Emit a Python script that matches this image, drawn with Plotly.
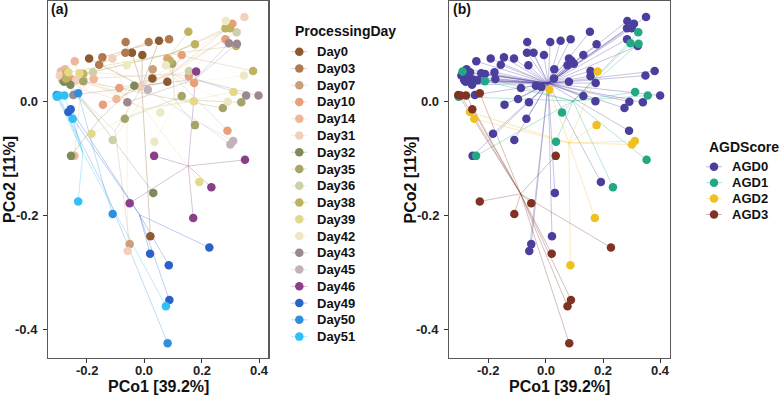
import plotly.graph_objects as go
import pandas as pd

# ---- data ----
pco1 = [0.348, 0.283, 0.306, 0.282, 0.298, 0.321, 0.153, 0.282, 0.294, 0.322,
        0.319, 0.176, -0.065, 0.015, 0.051, 0.086, -0.066, -0.043, -0.007, -0.192,
        -0.146, -0.111, -0.157, -0.242, -0.061, 0.130, 0.080, 0.089, 0.097, 0.075,
        0.029, 0.155, 0.180, 0.155, 0.378, 0.346, 0.028, 0.080, 0.173, -0.035,
        -0.087, -0.016, 0.012, 0.310, 0.354, 0.397, 0.130, 0.172, 0.290, 0.337,
        0.273, -0.097, -0.059, -0.144, -0.068, 0.056, 0.176, 0.289, 0.309, 0.299,
        -0.184, -0.110, 0.035, 0.034, 0.350, -0.255, -0.243, 0.191, 0.233, 0.031,
        -0.290, -0.276, -0.270, -0.264, -0.225, -0.212, -0.179, -0.176, -0.253, -0.237,
        -0.212, -0.279, -0.257, -0.284, -0.273, -0.294, -0.305, -0.296, -0.278, -0.247,
        -0.230, -0.304, -0.256, -0.264, -0.249, -0.230, -0.110, -0.051, 0.170, 0.021,
        -0.051, -0.058, 0.020, 0.226, 0.085, 0.087, 0.075, 0.081]
pco2 = [0.149, 0.142, 0.137, 0.129, 0.129, 0.122, 0.123, 0.110, 0.103, 0.102,
        0.098, 0.101, 0.105, 0.105, 0.107, 0.110, 0.086, 0.086, 0.082, 0.076,
        0.078, 0.076, 0.065, 0.071, 0.064, 0.082, 0.076, 0.072, 0.067, 0.064,
        0.057, 0.054, 0.053, 0.045, 0.054, 0.046, 0.041, 0.035, 0.033, 0.028,
        0.024, 0.026, 0.021, 0.017, 0.011, 0.011, 0.010, 0.001, 0.000, -0.001,
        -0.011, 0.005, -0.001, -0.005, -0.030, -0.019, -0.041, -0.051, -0.069, -0.075,
        -0.056, -0.067, -0.070, -0.095, -0.102, -0.095, -0.095, -0.141, -0.150, -0.160,
        0.053, 0.057, 0.051, 0.052, 0.050, 0.049, 0.052, 0.040, 0.039, 0.038,
        0.036, 0.035, 0.030, 0.038, 0.041, 0.046, 0.012, 0.011, 0.011, 0.012,
        0.015, 0.009, -0.013, -0.018, -0.030, -0.175, -0.197, -0.178, -0.204, -0.236,
        -0.250, -0.262, -0.267, -0.256, -0.287, -0.348, -0.359, -0.424]
day = ["Day31", "Day42", "Day10", "Day38", "Day38", "Day36", "Day38", "Day10", "Day43", "Day43",
       "Day38", "Day38", "Day03", "Day03", "Day0", "Day03", "Day03", "Day0", "Day0", "Day0",
       "Day03", "Day31", "Day03", "Day14", "Day42", "Day10", "Day10", "Day38", "Day35", "Day42",
       "Day07", "Day36", "Day46", "Day10", "Day38", "Day42", "Day0", "Day0", "Day10", "Day32",
       "Day10", "Day31", "Day45", "Day39", "Day43", "Day43", "Day35", "Day39", "Day42", "Day35",
       "Day35", "Day14", "Day43", "Day10", "Day35", "Day42", "Day35", "Day10", "Day45", "Day45",
       "Day39", "Day36", "Day42", "Day46", "Day46", "Day32", "Day14", "Day39", "Day46", "Day32",
       "Day14", "Day14", "Day38", "Day39", "Day39", "Day38", "Day36", "Day14", "Day10", "Day31",
       "Day35", "Day32", "Day32", "Day07", "Day38", "Day31", "Day50", "Day51", "Day51", "Day43",
       "Day50", "Day51", "Day49", "Day49", "Day51", "Day51", "Day50", "Day46", "Day46", "Day0",
       "Day07", "Day31", "Day49", "Day49", "Day49", "Day49", "Day51", "Day50"]
agd = ["AGD0", "AGD0", "AGD0", "AGD0", "AGD0", "AGD1", "AGD0", "AGD0", "AGD1", "AGD1",
       "AGD0", "AGD0", "AGD0", "AGD0", "AGD0", "AGD0", "AGD0", "AGD0", "AGD0", "AGD0",
       "AGD0", "AGD0", "AGD0", "AGD0", "AGD0", "AGD0", "AGD0", "AGD0", "AGD0", "AGD0",
       "AGD0", "AGD0", "AGD2", "AGD0", "AGD0", "AGD0", "AGD0", "AGD0", "AGD0", "AGD0",
       "AGD0", "AGD0", "AGD2", "AGD1", "AGD1", "AGD0", "AGD0", "AGD0", "AGD0", "AGD0",
       "AGD0", "AGD0", "AGD0", "AGD0", "AGD0", "AGD1", "AGD2", "AGD0", "AGD2", "AGD2",
       "AGD0", "AGD0", "AGD1", "AGD3", "AGD1", "AGD0", "AGD1", "AGD0", "AGD1", "AGD0",
       "AGD1", "AGD0", "AGD0", "AGD0", "AGD0", "AGD0", "AGD0", "AGD0", "AGD0", "AGD0",
       "AGD1", "AGD0", "AGD0", "AGD0", "AGD0", "AGD0", "AGD3", "AGD3", "AGD3", "AGD0",
       "AGD3", "AGD1", "AGD3", "AGD2", "AGD2", "AGD3", "AGD3", "AGD3", "AGD2", "AGD0",
       "AGD0", "AGD0", "AGD3", "AGD3", "AGD2", "AGD3", "AGD3", "AGD3"]

day_levels = ["Day0", "Day03", "Day07", "Day10", "Day14", "Day31", "Day32", "Day35", "Day36",
              "Day38", "Day39", "Day42", "Day43", "Day45", "Day46", "Day49", "Day50", "Day51"]
agd_levels = ["AGD0", "AGD1", "AGD2", "AGD3"]

x_ticks = [-0.2, 0.0, 0.2, 0.4]
x_tick_labels = ["-0.2", "0.0", "0.2", "0.4"]
y_ticks = [-0.4, -0.2, 0.0]
y_tick_labels = ["-0.4", "-0.2", "0.0"]

# ---- styles ----
day_colors = {
    "Day0": (140, 90, 46), "Day03": (176, 122, 80), "Day07": (201, 160, 122),
    "Day10": (232, 160, 122), "Day14": (238, 184, 152), "Day31": (242, 208, 188),
    "Day32": (125, 138, 90), "Day35": (166, 164, 104), "Day36": (207, 207, 168),
    "Day38": (191, 178, 98), "Day39": (227, 217, 138), "Day42": (236, 233, 196),
    "Day43": (156, 136, 144), "Day45": (196, 178, 186), "Day46": (138, 63, 138),
    "Day49": (42, 98, 200), "Day50": (45, 143, 224), "Day51": (47, 192, 245),
}
agd_colors = {"AGD0": (75, 63, 158), "AGD1": (34, 168, 132),
              "AGD2": (240, 192, 32), "AGD3": (127, 51, 37)}

FONT = "Liberation Sans, Arial, sans-serif"
W, H = 784, 400
LINE_ALPHA = 0.45

df = pd.DataFrame({"x": pco1, "y": pco2, "day": day, "agd": agd})

fig = go.Figure()


def add_panel(group_col, levels, colors, xa, ya):
    cent = df.groupby(group_col)[["x", "y"]].mean()
    for lv in levels:
        sub = df[df[group_col] == lv]
        if sub.empty:
            continue
        cx, cy = cent.loc[lv, "x"], cent.loc[lv, "y"]
        xs, ys = [], []
        for px, py in zip(sub["x"], sub["y"]):
            xs += [cx, px, None]
            ys += [cy, py, None]
        r, g, b = colors[lv]
        fig.add_trace(go.Scatter(x=xs, y=ys, mode="lines", xaxis=xa, yaxis=ya,
                                 line=dict(color=f"rgba({r},{g},{b},{LINE_ALPHA})", width=0.7),
                                 showlegend=False, hoverinfo="skip"))
    for lv in levels:
        sub = df[df[group_col] == lv]
        r, g, b = colors[lv]
        fig.add_trace(go.Scatter(x=sub["x"], y=sub["y"], mode="markers", name=lv,
                                 xaxis=xa, yaxis=ya, showlegend=False,
                                 marker=dict(color=f"rgb({r},{g},{b})", size=8.5,
                                             line=dict(width=0))))


add_panel("day", day_levels, day_colors, "x", "y")
add_panel("agd", agd_levels, agd_colors, "x2", "y2")

ann = []
def txt(text, x, y, size, xanchor="center", yanchor="middle", angle=0,
        xref="paper", yref="paper", color="#111111"):
    xv = x / W if xref == "paper" else x
    yv = 1 - y / H if yref == "paper" else y
    ann.append(dict(text=text, x=xv, y=yv, xref=xref, yref=yref,
                    showarrow=False, xanchor=xanchor, yanchor=yanchor, textangle=angle,
                    font=dict(family=FONT, size=size, color=color, weight="bold")))


# ---- legends drawn on a transparent pixel overlay axis (keys + labels) ----
def add_legend(title, levels, colors, title_x, title_y, key_x, text_x, first_y, step):
    txt(title, title_x, title_y, 14, xanchor="left")
    for i, lv in enumerate(levels):
        yy = first_y + i * step
        r, g, b = colors[lv]
        fig.add_trace(go.Scatter(x=[key_x - 8, key_x + 8], y=[yy, yy], mode="lines",
                                 xaxis="x3", yaxis="y3", showlegend=False, hoverinfo="skip",
                                 line=dict(color=f"rgba({r},{g},{b},{LINE_ALPHA})", width=0.8)))
        fig.add_trace(go.Scatter(x=[key_x], y=[yy], mode="markers", xaxis="x3", yaxis="y3",
                                 showlegend=False, hoverinfo="skip",
                                 marker=dict(color=f"rgb({r},{g},{b})", size=8.5)))
        txt(lv, text_x, yy, 13, xanchor="left")


add_legend("ProcessingDay", day_levels, day_colors, 292.7, 31, 299.3, 315, 51.7, 16.76)
add_legend("AGDScore", agd_levels, agd_colors, 707, 146.5, 714, 730, 166.8, 15.9)

xr = [-0.336, 0.431]
yr = [-0.450, 0.177]
ydom = [1 - 358 / H, 1 - 1 / H]

axis_common = dict(showgrid=False, zeroline=False, showline=True, mirror=True,
                   linecolor="#5a5a5a", linewidth=1.2, ticks="outside", ticklen=4,
                   tickcolor="#333333", tickwidth=1, showticklabels=False)

fig.update_layout(
    width=W, height=H, margin=dict(l=0, r=0, t=0, b=0, autoexpand=False),
    paper_bgcolor="white", plot_bgcolor="rgba(0,0,0,0)", showlegend=False,
    xaxis=dict(domain=[47.7 / W, 268.3 / W], range=xr, tickvals=x_ticks,
               anchor="y", **axis_common),
    yaxis=dict(domain=ydom, range=yr, tickvals=y_ticks, anchor="x", **axis_common),
    xaxis2=dict(domain=[449.3 / W, 669.9 / W], range=xr, tickvals=x_ticks,
                anchor="y2", **axis_common),
    yaxis2=dict(domain=ydom, range=yr, tickvals=y_ticks, anchor="x2", **axis_common),
    xaxis3=dict(domain=[0, 1], range=[0, W], visible=False, fixedrange=True, anchor="y3"),
    yaxis3=dict(domain=[0, 1], range=[H, 0], visible=False, fixedrange=True, anchor="x3"),
)

# tick labels placed on the axes' own scales
for xa, ya, left_px in (("x", "y", 39.5), ("x2", "y2", 441)):
    for v, lab in zip(x_ticks, x_tick_labels):
        txt(lab, v, 370.5, 13, xref=xa, color="#222222")
    for v, lab in zip(y_ticks, y_tick_labels):
        txt(lab, left_px, v, 13, xanchor="right", yref=ya, color="#222222")

txt("(a)", 49, 9, 14, xanchor="left")
txt("(b)", 451, 9, 14, xanchor="left")
txt("PCo1 [39.2%]", 158, 386.5, 16)
txt("PCo1 [39.2%]", 559.6, 386.5, 16)
txt("PCo2 [11%]", 10, 180, 16, angle=-90)
txt("PCo2 [11%]", 410.5, 180, 16, angle=-90)
fig.update_layout(annotations=ann)

fig.write_html("out.html", config={"displayModeBar": False, "staticPlot": True},
               post_script="document.body.style.margin='0px';document.body.style.padding='0px';")
